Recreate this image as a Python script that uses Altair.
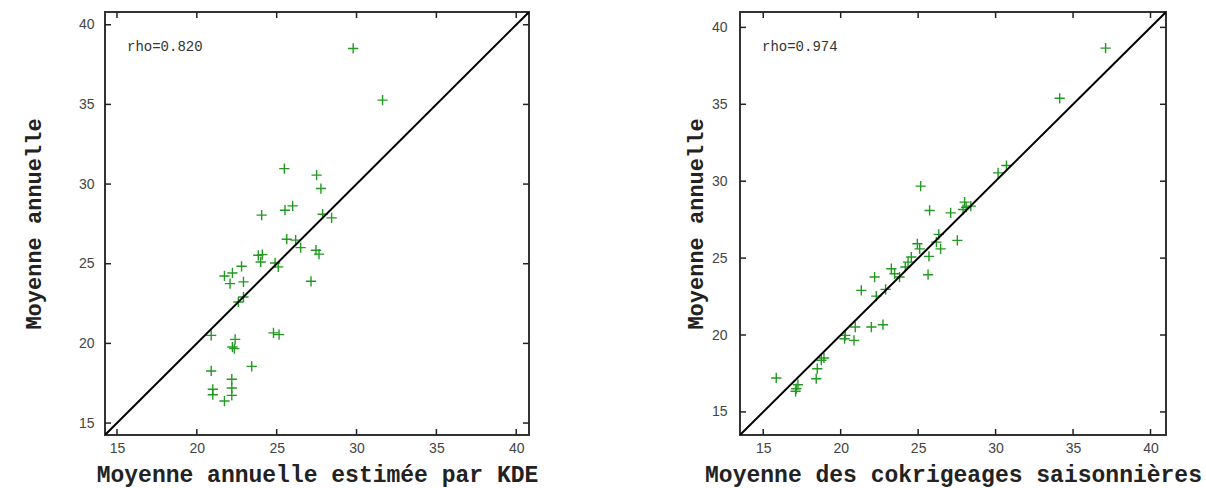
import altair as alt
import pandas as pd

# ---------------- data ----------------
kde_x = [29.79, 31.63, 25.48, 27.5, 27.77, 24.06, 25.52, 26.0, 27.88, 28.44,
         25.63, 26.19, 26.5, 27.46, 27.65, 23.85, 24.1, 24.0, 24.9, 25.1,
         22.8, 22.23, 21.73, 22.08, 22.92, 27.15, 22.92, 22.6, 20.9, 22.4,
         22.23, 22.35, 24.8, 25.15, 23.44, 20.9, 22.19, 21.0, 22.19, 21.0,
         22.19, 21.73]
kde_y = [38.51, 35.27, 30.97, 30.56, 29.72, 28.05, 28.36, 28.63, 28.11, 27.88,
         26.54, 26.48, 26.01, 25.85, 25.6, 25.53, 25.57, 25.11, 25.05, 24.8,
         24.84, 24.42, 24.23, 23.75, 23.86, 23.9, 22.91, 22.6, 20.5, 20.25,
         19.77, 19.67, 20.66, 20.55, 18.56, 18.27, 17.75, 17.12, 17.2, 16.78,
         16.74, 16.38]

cok_x = [34.14, 37.1, 25.16, 30.16, 30.7, 25.74, 27.1, 28.0, 28.1, 28.4,
         27.9, 26.33, 26.45, 26.18, 27.53, 24.95, 25.1, 25.7, 24.56, 24.35,
         24.17, 23.27, 23.48, 25.64, 22.19, 23.8, 21.33, 22.3, 22.9, 22.73,
         21.98, 20.94, 20.3, 20.25, 20.86, 18.92, 18.75, 18.49, 18.42, 15.84,
         17.24, 17.13, 17.09]
cok_y = [35.39, 38.65, 29.68, 30.54, 31.02, 28.1, 27.94, 28.64, 28.31, 28.38,
         28.16, 26.54, 25.6, 26.04, 26.15, 25.93, 25.6, 25.11, 25.07, 24.74,
         24.42, 24.31, 23.98, 23.92, 23.77, 23.77, 22.9, 22.53, 22.97, 20.67,
         20.52, 20.52, 19.98, 19.76, 19.65, 18.51, 18.36, 17.81, 17.16, 17.21,
         16.77, 16.51, 16.34]

tick_values = [15, 20, 25, 30, 35, 40]
kde_domain = [14.25, 40.8]
cok_domain = [13.5, 41.0]
kde_rho = "rho=0.820"
cok_rho = "rho=0.974"
kde_xtitle = "Moyenne annuelle estimée par KDE"
cok_xtitle = "Moyenne des cokrigeages saisonnières"
ytitle = "Moyenne annuelle"

GREEN = "#229a22"
CROSS = "M-1,0L1,0M0,-1L0,1"
TICK_LEN = 6


def panel(xs, ys, dom, rho, xtitle, w, h, ylab_pad, ytitle_pad):
    sc = alt.Scale(domain=dom, nice=False, zero=False)
    pts = pd.DataFrame({"x": xs, "y": ys})
    diag = pd.DataFrame({"x": dom, "y": dom})
    tx = pd.DataFrame({"x": tick_values})
    ty = pd.DataFrame({"y": tick_values})
    lab = pd.DataFrame({"label": [rho]})

    xaxis = alt.Axis(values=tick_values, title=xtitle, ticks=False, tickSize=0,
                     domain=False, grid=False, labelFont="Liberation Sans",
                     labelFontSize=14, labelColor="#444", labelPadding=6,
                     titleFont="Liberation Mono", titleFontWeight="bold",
                     titleFontSize=23, titleColor="#222", titlePadding=8)
    yaxis = alt.Axis(values=tick_values, title=ytitle, ticks=False, tickSize=0,
                     domain=False, grid=False, labelFont="Liberation Sans",
                     labelFontSize=14, labelColor="#444", labelPadding=ylab_pad,
                     titleFont="Liberation Mono", titleFontWeight="bold",
                     titleFontSize=22, titleColor="#222", titlePadding=ytitle_pad)

    points = alt.Chart(pts).mark_point(shape=CROSS, size=105, filled=False,
                                       stroke=GREEN, strokeWidth=1.4, opacity=1).encode(
        x=alt.X("x:Q", scale=sc, axis=xaxis),
        y=alt.Y("y:Q", scale=sc, axis=yaxis),
    )
    line = alt.Chart(diag).mark_line(color="black", strokeWidth=2, clip=True).encode(
        x=alt.X("x:Q", scale=sc),
        y=alt.Y("y:Q", scale=sc),
    )
    bottom = alt.Chart(tx).mark_rule(color="#222", strokeWidth=1.5).encode(
        x=alt.X("x:Q", scale=sc), y=alt.value(h), y2=alt.value(h - TICK_LEN))
    top = alt.Chart(tx).mark_rule(color="#222", strokeWidth=1.5).encode(
        x=alt.X("x:Q", scale=sc), y=alt.value(0), y2=alt.value(TICK_LEN))
    left = alt.Chart(ty).mark_rule(color="#222", strokeWidth=1.5).encode(
        y=alt.Y("y:Q", scale=sc), x=alt.value(0), x2=alt.value(TICK_LEN))
    right = alt.Chart(ty).mark_rule(color="#222", strokeWidth=1.5).encode(
        y=alt.Y("y:Q", scale=sc), x=alt.value(w), x2=alt.value(w - TICK_LEN))
    text = alt.Chart(lab).mark_text(align="left", baseline="middle",
                                    font="Liberation Mono", fontSize=14,
                                    color="#333").encode(
        x=alt.value(22), y=alt.value(35), text="label:N")

    return alt.layer(points, line, bottom, top, left, right, text).properties(
        width=w, height=h)


left_panel = panel(kde_x, kde_y, kde_domain, kde_rho, kde_xtitle, 424, 423, 11, 33)
right_panel = panel(cok_x, cok_y, cok_domain, cok_rho, cok_xtitle, 426, 423, 13, 4)

chart = alt.hconcat(left_panel, right_panel, spacing=211, bounds="flush").properties(
    padding={"left": 21, "top": 10, "right": 0, "bottom": 0},
    background="white",
).configure_view(stroke="#333", strokeWidth=2)

chart.save("out.html", embed_options={"renderer": "svg", "actions": False})
